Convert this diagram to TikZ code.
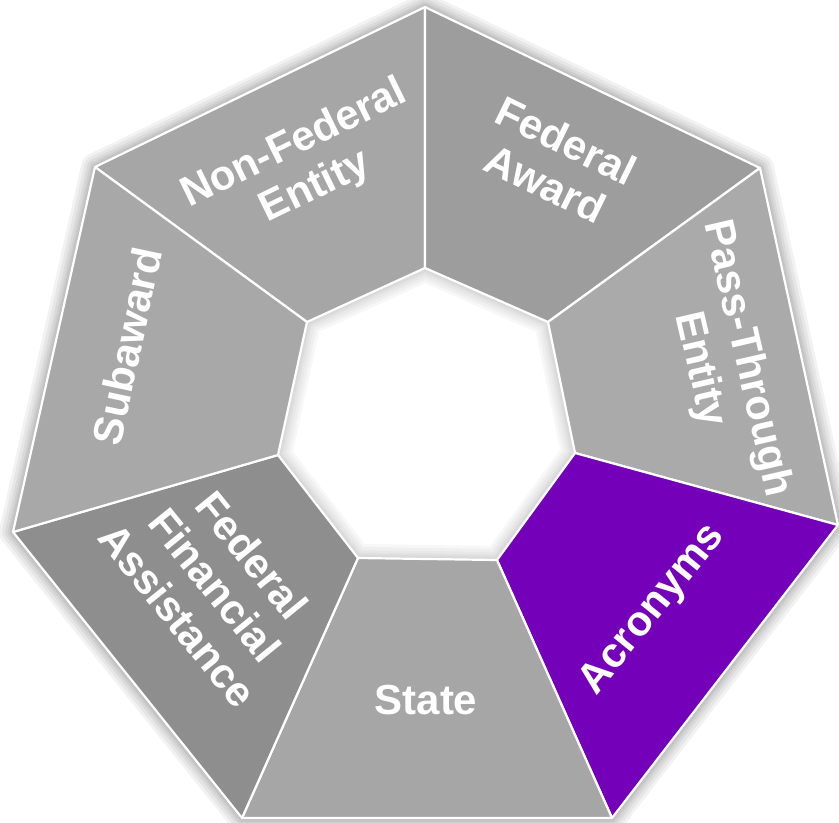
\documentclass[tikz,border=0pt]{standalone}
\usepackage{fontspec}
\setmainfont{Liberation Sans}
\definecolor{gNFE}{RGB}{166,166,166}
\definecolor{gFA}{RGB}{157,157,157}
\definecolor{gPTE}{RGB}{170,170,170}
\definecolor{gACR}{RGB}{116,0,186}
\definecolor{gST}{RGB}{166,166,166}
\definecolor{gFFA}{RGB}{142,142,142}
\definecolor{gSUB}{RGB}{168,168,168}
\begin{document}
\begin{tikzpicture}[x=1bp,y=-1bp,
  segline/.style={draw=white, line width=2.2bp, line join=round},
  lbl/.style={text=white, font=\bfseries\fontsize{42bp}{48bp}\selectfont, align=center, inner sep=0pt}]
\useasboundingbox (0,0) rectangle (839,823);
% outer vertices
\coordinate (oT) at (425,7);
\coordinate (oUL) at (95,167);
\coordinate (oUR) at (760,168);
\coordinate (oL) at (13,532);
\coordinate (oR) at (838,525);
\coordinate (oBL) at (242,818);
\coordinate (oBR) at (612,818);
% inner vertices
\coordinate (iT) at (425,268);
\coordinate (iUL) at (307,322);
\coordinate (iUR) at (548,322);
\coordinate (iL) at (278,455);
\coordinate (iR) at (575,453);
\coordinate (iBL) at (358,558);
\coordinate (iBR) at (497,560);
% soft shadow
\begin{scope}[shift={(4,4)}]
\foreach \w in {28,22,16,11,7,3}{
  \draw[black, opacity=0.05, line width=\w bp, line join=round]
    (oT) -- (oUR) -- (oR) -- (oBR) -- (oBL) -- (oL) -- (oUL) -- cycle;
  \draw[black, opacity=0.03, line width=\w bp, line join=round]
    (iT) -- (iUR) -- (iR) -- (iBR) -- (iBL) -- (iL) -- (iUL) -- cycle;
}
\end{scope}
% segments
\path[fill=gNFE, segline] (oUL) -- (oT) -- (iT) -- (iUL) -- cycle;
\path[fill=gFA, segline] (oT) -- (oUR) -- (iUR) -- (iT) -- cycle;
\path[fill=gPTE, segline] (oUR) -- (oR) -- (iR) -- (iUR) -- cycle;
\path[fill=gACR, segline] (oR) -- (oBR) -- (iBR) -- (iR) -- cycle;
\path[fill=gST, segline] (oBR) -- (oBL) -- (iBL) -- (iBR) -- cycle;
\path[fill=gFFA, segline] (oBL) -- (oL) -- (iL) -- (iBL) -- cycle;
\path[fill=gSUB, segline] (oL) -- (oUL) -- (iUL) -- (iL) -- cycle;
% labels
\node[lbl, rotate=26] (nfe) at (305,166) {Non-Federal\\Entity};
\node[lbl, rotate=-26] (fa) at (556,162) {Federal\\Award};
\node[lbl, rotate=-77] (pte) at (723,364) {Pass-Through\\Entity};
\node[lbl, rotate=51] (acr) at (653,610) {Acronyms};
\node[lbl] (st) at (426,700) {State};
\node[lbl, rotate=-51] (ffa) at (215,585) {Federal\\Financial\\Assistance};
\node[lbl, rotate=78] (sub) at (127,346) {Subaward};
\end{tikzpicture}
\end{document}
